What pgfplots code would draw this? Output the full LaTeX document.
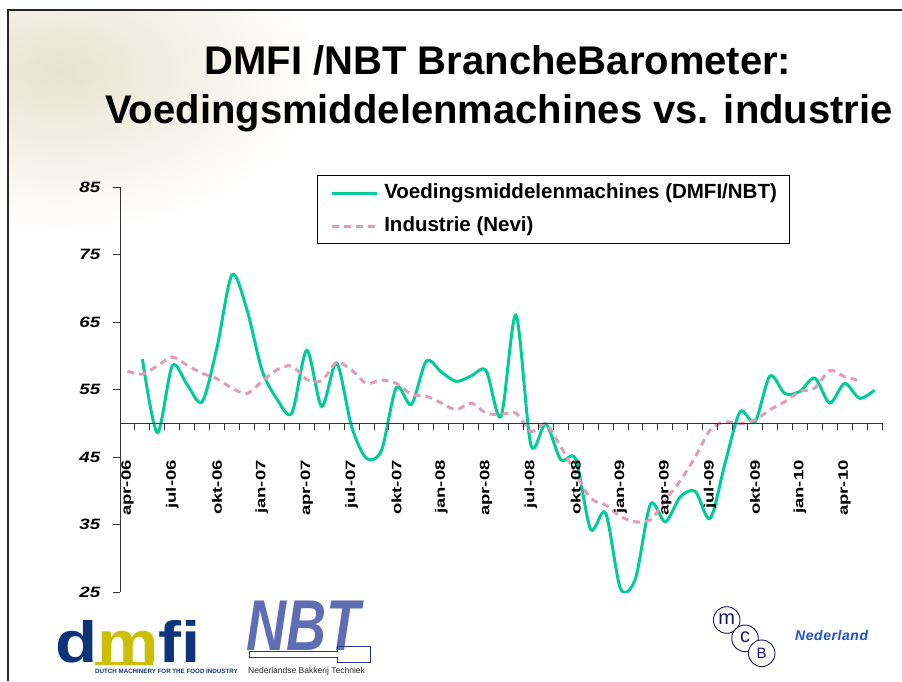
\documentclass[border=0pt]{standalone}
\usepackage{pgfplots}
\pgfplotsset{compat=1.18}
\usepackage{fontspec}
\setmainfont{Liberation Sans}
\definecolor{vgreen}{RGB}{0,204,153}
\definecolor{npink}{RGB}{222,158,184}
\definecolor{navy}{RGB}{12,52,122}
\definecolor{dyellow}{RGB}{204,190,0}
\definecolor{nbtblue}{RGB}{95,110,180}
\definecolor{nbtline}{RGB}{40,55,140}
\definecolor{mcbnavy}{RGB}{20,20,110}
\definecolor{mcbblue}{RGB}{30,80,210}
\begin{document}
\begin{tikzpicture}[x=1pt,y=1pt]
\fill[white] (0,0) rectangle (902,681);
\begin{scope}
\clip (9,0) rectangle (902,670);
\shade[inner color={rgb,255:red,232;green,226;blue,206}, outer color=white] (60,610) ellipse (260 and 160);
\end{scope}
\draw[line width=1.6pt, black!85] (8,0) -- (8,671) -- (902,671);
% title
\node[anchor=base, font=\fontsize{40}{48}\selectfont\bfseries] at (498,606) {DMFI /NBT BrancheBarometer:};
\node[anchor=base, font=\fontsize{40}{48}\selectfont\bfseries] at (499,557.7) {Voedingsmiddelenmachines vs. industrie};

% main axis with data
\begin{axis}[at={(120pt,89pt)}, anchor=south west, scale only axis,
  width=762pt, height=405pt,
  xmin=-0.5, xmax=50.5, ymin=25, ymax=85,
  axis x line=none, axis y line*=left,
  ytick={25,35,...,85},
  tick align=outside, major tick length=7pt,
  y axis line style={black!80, line width=1pt},
  ytick style={black!80, line width=1pt},
  /pgf/number format/assume math mode=true,
  yticklabel style={font=\fontsize{15}{18}\selectfont\bfseries\itshape, xscale=1.25, inner sep=0pt, xshift=-10pt},
  legend style={at={(0.2581,1.0296)}, anchor=north west, draw=black, line width=1.2pt, fill=white,
    font=\fontsize{20.5}{24}\selectfont\bfseries, inner xsep=13pt, inner ysep=8pt, row sep=14pt,
    nodes={inner sep=0pt, text height=15pt, text depth=4pt}},
  legend cell align=left,
  legend image code/.code={\draw[#1] (0pt,0pt) -- (45pt,0pt); \path (51pt,0pt);},
]
\addplot[vgreen, line width=3pt, smooth] coordinates {
(1,59.5) (2,48.6) (3,58.5) (4,55.7) (5,53.2) (6,61.3) (7,72.0) (8,66.8) (9,57.9) (10,53.6)
(11,51.5) (12,60.8) (13,52.5) (14,58.9) (15,49.5) (16,44.8) (17,46.0) (18,55.3) (19,52.8) (20,59.2)
(21,57.6) (22,56.2) (23,57.0) (24,57.8) (25,51.0) (26,66.0) (27,46.8) (28,49.9) (29,44.6) (30,44.7)
(31,34.3) (32,36.7) (33,25.5) (34,27.0) (35,38.0) (36,35.4) (37,39.1) (38,39.9) (39,35.9) (40,44.1)
(41,51.7) (42,50.2) (43,57.0) (44,54.4) (45,54.7) (46,56.7) (47,53.0) (48,55.9) (49,53.7) (50,54.9)
};
\addplot[npink, line width=3pt, smooth, dash pattern=on 7pt off 5pt] coordinates {
(0,57.7) (1,57.3) (2,58.5) (3,59.8) (4,58.6) (5,57.4) (6,56.6) (7,55.2) (8,54.4) (9,56.2)
(10,57.9) (11,58.5) (12,56.5) (13,56.3) (14,59.0) (15,57.9) (16,55.9) (17,56.4) (18,55.9) (19,54.3)
(20,54.0) (21,53.0) (22,52.0) (23,53.0) (24,51.5) (25,51.3) (26,51.5) (27,48.8) (28,49.9) (29,46.5)
(30,42.6) (31,38.9) (32,37.9) (33,36.2) (34,35.4) (35,35.7) (36,38.6) (37,41.5) (38,45.0) (39,49.0)
(40,50.2) (41,49.9) (42,50.5) (43,52.0) (44,53.2) (45,54.7) (46,55.2) (47,57.8) (48,56.9) (49,56.3)
};
\legend{Voedingsmiddelenmachines (DMFI/NBT), Industrie (Nevi)}
\end{axis}

% horizontal axis line at 50 with category ticks
\begin{axis}[at={(120pt,257.75pt)}, anchor=south west, scale only axis,
  width=762pt, height=20pt,
  xmin=-0.5, xmax=50.5, ymin=0, ymax=1,
  axis y line=none, axis x line*=bottom,
  xtick={-0.5,0.5,...,50.5}, xticklabels={},
  tick align=outside, major tick length=7pt,
  x axis line style={black!80, line width=1pt},
  xtick style={black!80, line width=1pt},
]
\addplot[draw=none] coordinates {(0,0)};
\end{axis}

% month labels
\begin{axis}[at={(120pt,221pt)}, anchor=south west, scale only axis,
  width=762pt, height=20pt,
  xmin=-0.5, xmax=50.5, ymin=0, ymax=1,
  axis y line=none, axis x line*=bottom,
  x axis line style={draw=none},
  xtick={0,3,...,48},
  xticklabels={apr-06,jul-06,okt-06,jan-07,apr-07,jul-07,okt-07,jan-08,apr-08,jul-08,okt-08,jan-09,apr-09,jul-09,okt-09,jan-10,apr-10},
  major tick length=0pt, xtick style={draw=none},
  xticklabel style={rotate=90, anchor=east, xscale=1.36, inner sep=0pt, font=\fontsize{13.6}{16}\selectfont\bfseries},
]
\addplot[draw=none] coordinates {(0,0)};
\end{axis}

% dmfi logo
\node[anchor=base west, inner sep=0pt, text depth=0pt, xscale=1.19, font=\fontsize{58}{60}\selectfont\bfseries] at (55,19) {\textcolor{navy}{d}\textcolor{dyellow}{m}\textcolor{navy}{fi}};
\fill[dyellow] (95,16.5) rectangle (153,19.5);
\node[anchor=base west, inner sep=0pt, text=navy, font=\fontsize{6.2}{7}\selectfont\bfseries] at (95,7.5) {DUTCH MACHINERY FOR THE FOOD INDUSTRY};
% NBT logo
\node[anchor=base west, inner sep=0pt, text depth=0pt, xscale=0.77, text=nbtblue, font=\fontsize{72}{74}\selectfont\bfseries\itshape] at (246,31) {NBT};
\draw[nbtline, line width=0.8pt] (249,24) -- (337,24) -- (337,19) -- (370,19) -- (370,35) -- (337,35) -- (337,30) -- (249,30) -- cycle;
\node[anchor=base west, inner sep=0pt, text=black!85, font=\fontsize{8.5}{9}\selectfont] at (248,8) {Nederlandse Bakkerij Techniek};
% MCB logo
\draw[mcbnavy, line width=0.9pt, fill=white] (726.7,61) circle (13.3);
\draw[mcbnavy, line width=0.9pt, fill=white] (745,42.7) circle (13.3);
\draw[mcbnavy, line width=0.9pt, fill=white] (761.7,27.7) circle (13.3);
\node[text=mcbnavy, font=\fontsize{20}{22}\selectfont] at (726.7,62) {m};
\node[text=mcbnavy, font=\fontsize{20}{22}\selectfont] at (745,43.7) {c};
\node[text=mcbnavy, font=\fontsize{15}{18}\selectfont] at (761.7,27.7) {B};
\node[anchor=west, inner sep=0pt, text=mcbblue, font=\fontsize{14}{16}\selectfont\bfseries\itshape\addfontfeature{LetterSpace=4}] at (795,45.3) {Nederland};
\pgfresetboundingbox
\path[use as bounding box] (0,0) rectangle (902,681);
\end{tikzpicture}
\end{document}
